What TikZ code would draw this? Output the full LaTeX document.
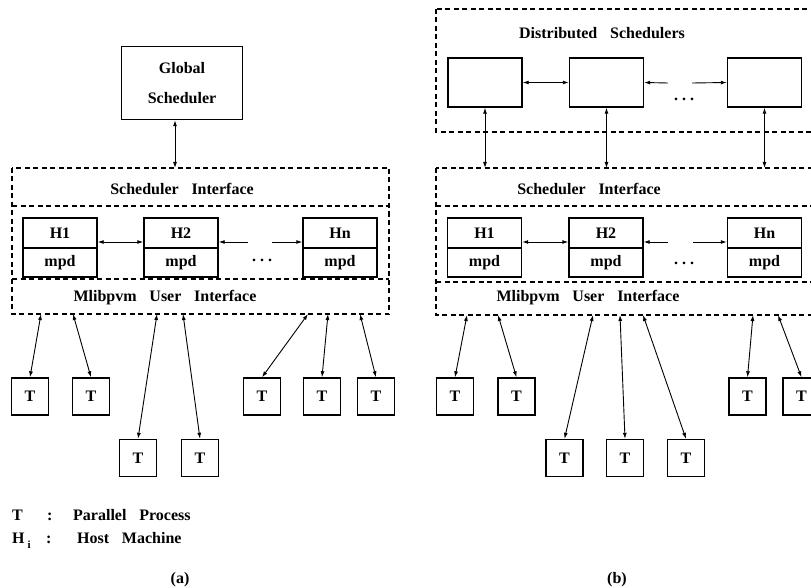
\documentclass[tikz,border=0pt]{standalone}
\usepackage{fontspec}
\setmainfont{Liberation Serif}[WordSpace=3.2]
\usetikzlibrary{arrows.meta}

\begin{document}
\begin{tikzpicture}[x=1pt,y=-1pt,
        font=\bfseries\fontsize{16}{18}\selectfont,
        >={Latex[length=6pt,width=4pt]},
        frame/.style={draw,line width=1.4pt,inner sep=0pt},
        sbox/.style={frame,minimum width=74pt,minimum height=49pt},
        hbox/.style={frame,minimum width=74pt,minimum height=30pt},
        mbox/.style={frame,minimum width=74pt,minimum height=29pt},
        tbox/.style={frame,minimum size=37pt},
        dashline/.style={line width=1.1pt,dash pattern=on 5pt off 3.5pt},
        link/.style={<->,line width=0.9pt},
        oneway/.style={line width=0.9pt},
        legend/.style={anchor=base west,inner sep=0pt}]
    \path[use as bounding box] (0,0) rectangle (811,588);
    \clip (0,0) rectangle (811,588);

    % (a) central scheduler
    \node[frame,minimum width=121pt,minimum height=73pt,align=center] (gs) at (182,83) {Global\\[12pt]Scheduler};
    \draw[dashline] (12,168) rectangle (389,314);
    \draw[dashline] (12,206) -- (389,206);
    \draw[dashline] (12,279) -- (389,279);
    \coordinate (sia) at (175,168);
    \draw[link] (gs.south -| sia) -- (sia);
    \node (sila) at (182,189) {Scheduler Interface};
    \node (uila) at (165,298) {Mlibpvm User Interface};

    \foreach \n/\x/\h in {a1/60/H1, a2/181/H2, an/340/Hn} {
        \node[hbox] (h\n) at (\x,233) {\h};
        \node[mbox] (m\n) at (\x,262.5) {mpd};
    }
    \draw[link] ([yshift=-9pt]ha1.east) -- ([yshift=-9pt]ha2.west);
    \coordinate (ga1) at (248,242);
    \coordinate (ga2) at (272,242);
    \draw[oneway,<-] ([yshift=-9pt]ha2.east) -- (ga1);
    \draw[oneway,->] (ga2) -- ([yshift=-9pt]han.west);
    \node (dota) at (262,260) {.\hspace{4pt}.\hspace{4pt}.};

    \foreach \n/\x/\y in {1/30/396.5, 2/91/396.5, 3/138/458, 4/200/458, 5/262/396.5, 6/322/396.5, 7/376/396.5}
        \node[tbox] (ta\n) at (\x,\y) {T};
    \foreach \n/\x in {1/41, 2/73, 3/157, 4/183, 5/308, 6/328, 7/360} {
        \coordinate (ua\n) at (\x,314);
        \draw[link] (ua\n) -- (ta\n.north);
    }

    % (b) distributed schedulers
    \draw[dashline] (436,9) rectangle (830,132);
    \node (dsl) at (602,33) {Distributed Schedulers};
    \foreach \n/\x in {1/485, 2/606.5, n/764.5}
        \node[sbox] (s\n) at (\x,82.5) {};
    \draw[link] (s1.east) -- (s2.west);
    \coordinate (gs1) at (668,83);
    \coordinate (gs2) at (692,83);
    \draw[oneway,<-] (s2.east) -- (gs1);
    \draw[oneway,->] (gs2) -- (sn.west);
    \node (dots) at (684,99) {.\hspace{4pt}.\hspace{4pt}.};

    \draw[dashline] (436,168) rectangle (830,315);
    \draw[dashline] (436,206) -- (830,206);
    \draw[dashline] (436,282) -- (830,282);
    \coordinate (sib) at (436,168);
    \foreach \n in {1,2,n}
        \draw[link] (s\n.south) -- (s\n.south |- sib);
    \node (silb) at (589,189) {Scheduler Interface};
    \node (uilb) at (588,298) {Mlibpvm User Interface};

    \foreach \n/\x/\h in {b1/484.5/H1, b2/606/H2, bn/764.5/Hn} {
        \node[hbox] (h\n) at (\x,233) {\h};
        \node[mbox] (m\n) at (\x,262.5) {mpd};
    }
    \draw[link] ([yshift=-9pt]hb1.east) -- ([yshift=-9pt]hb2.west);
    \coordinate (gb1) at (668,242);
    \coordinate (gb2) at (693,242);
    \draw[oneway,<-] ([yshift=-9pt]hb2.east) -- (gb1);
    \draw[oneway,->] (gb2) -- ([yshift=-9pt]hbn.west);
    \node (dotb) at (684,263) {.\hspace{4pt}.\hspace{4pt}.};

    \foreach \n/\x/\y in {1/455/396.5, 2/516.5/396.5, 3/564.5/458, 4/625/458, 5/686/458, 6/747.5/396.5, 7/801.5/396.5}
        \node[tbox] (tb\n) at (\x,\y) {T};
    \foreach \n/\x in {1/467, 2/498, 3/593, 4/620, 5/643, 6/753, 7/778} {
        \coordinate (ub\n) at (\x,315);
        \draw[link] (ub\n) -- (tb\n.north);
    }

    % legend and captions
    \node[legend] (lgt) at (12,520) {T};
    \node[legend] (lgtc) at (47,520) {:};
    \node[legend] (lgtx) at (73,520) {Parallel Process};
    \node[legend] (lgh) at (12,543) {H\hspace{3pt}\raisebox{-5pt}{\fontsize{11}{11}\selectfont i}};
    \node[legend] (lghc) at (46,543) {:};
    \node[legend] (lghx) at (77,543) {Host Machine};
    \node (capa) at (180,580) {(a)};
    \node (capb) at (617,580) {(b)};
\end{tikzpicture}
\end{document}
